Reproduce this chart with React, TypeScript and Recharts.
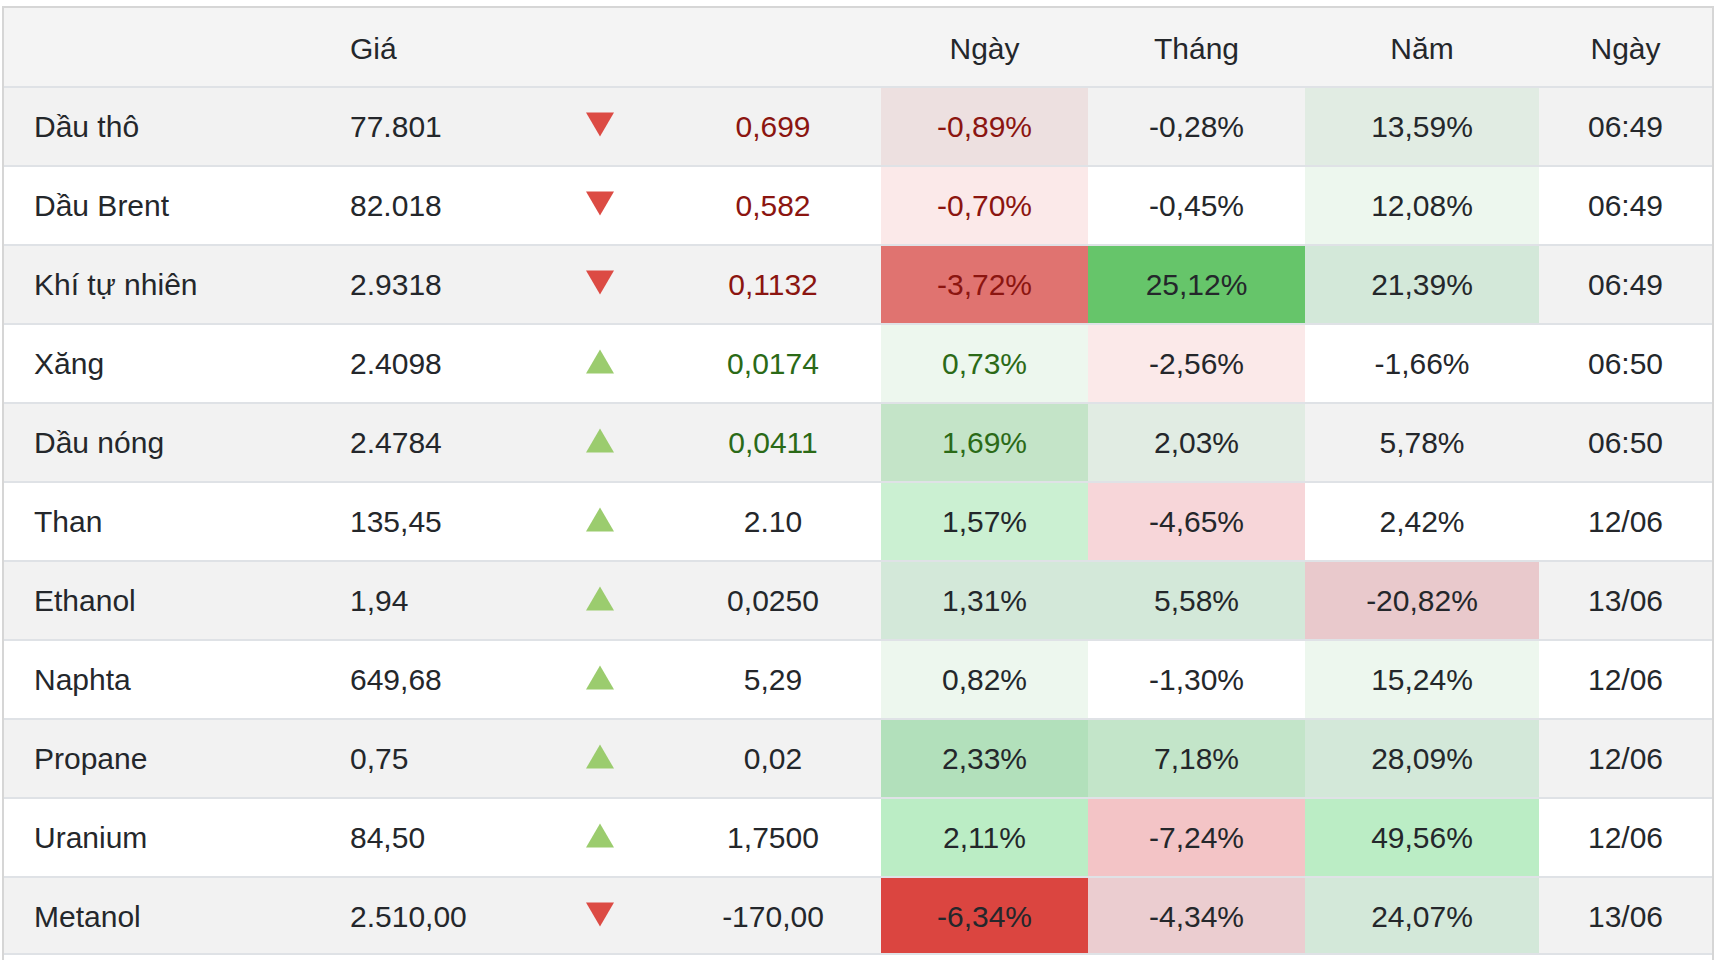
import { BarChart, Bar, XAxis, YAxis, Cell, LabelList } from "recharts";

// table values
const names = ["Dầu thô", "Dầu Brent", "Khí tự nhiên", "Xăng", "Dầu nóng", "Than", "Ethanol", "Naphta", "Propane", "Uranium", "Metanol"];
const prices = ["77.801", "82.018", "2.9318", "2.4098", "2.4784", "135,45", "1,94", "649,68", "0,75", "84,50", "2.510,00"];
const direction = ["down", "down", "down", "up", "up", "up", "up", "up", "up", "up", "down"];
const changes = ["0,699", "0,582", "0,1132", "0,0174", "0,0411", "2.10", "0,0250", "5,29", "0,02", "1,7500", "-170,00"];
const dayPct = ["-0,89%", "-0,70%", "-3,72%", "0,73%", "1,69%", "1,57%", "1,31%", "0,82%", "2,33%", "2,11%", "-6,34%"];
const monthPct = ["-0,28%", "-0,45%", "25,12%", "-2,56%", "2,03%", "-4,65%", "5,58%", "-1,30%", "7,18%", "-7,24%", "-4,34%"];
const yearPct = ["13,59%", "12,08%", "21,39%", "-1,66%", "5,78%", "2,42%", "-20,82%", "15,24%", "28,09%", "49,56%", "24,07%"];
const times = ["06:49", "06:49", "06:49", "06:50", "06:50", "12/06", "13/06", "12/06", "12/06", "12/06", "13/06"];
const live = [true, true, true, true, true, false, false, false, false, false, false];
const headers = ["", "Giá", "", "", "Ngày", "Tháng", "Năm", "Ngày"];

// heatmap cell colours (null = plain row stripe)
const DAY_FILL = ["#ede0e0", "#fbe9e9", "#e07370", "#edf7ee", "#c4e4c8", "#cbf0d2", "#d3e8d9", "#edf7ee", "#b2e0bb", "#bbedc5", "#db4540"];
const MONTH_FILL = [null, null, "#66c56a", "#fbe9e9", "#e1ece3", "#f7d6d9", "#d3e8d9", null, "#c3e5c9", "#f3c4c6", "#ebcdd0"];
const YEAR_FILL = ["#e1ece3", "#edf7ee", "#d3e8d9", null, null, null, "#e9c9cc", "#edf7ee", "#d3e8d9", "#bbedc5", "#d3e8d9"];

const FONT = "'Liberation Sans', Arial, Helvetica, sans-serif";
const TEXT = "#24272b";
const RED_TEXT = "#8b1510";
const GREEN_TEXT = "#2b6a17";
const LINE = "#dfe2e6";

const COLUMNS: any[] = [
  { key: "name", w: 316, align: "left" },
  { key: "price", w: 215, align: "left" },
  { key: "dir", w: 130, align: "arrow" },
  { key: "change", w: 216, align: "center", tinted: true },
  { key: "day", w: 207, align: "center", tinted: true, fills: DAY_FILL },
  { key: "month", w: 217, align: "center", fills: MONTH_FILL },
  { key: "year", w: 234, align: "center", fills: YEAR_FILL },
  { key: "time", w: 173, align: "center" },
];

let acc = 0;
const starts = COLUMNS.map((c) => {
  const s = acc;
  acc += c.w;
  return s;
});
const TOTAL = acc;

const rows = names.map((name, i) => ({
  name,
  price: prices[i],
  dir: direction[i],
  change: changes[i],
  day: dayPct[i],
  month: monthPct[i],
  year: yearPct[i],
  time: times[i],
  live: live[i],
}));

const stripe = (i: number) => (i % 2 === 0 ? "#f2f2f2" : "#ffffff");

const CellShape = (p: any) => {
  const { x, y, width, height, fill, index } = p;
  return (
    <g>
      <rect x={x} y={y} width={width} height={height} fill={fill} />
      <rect x={x} y={y} width={width} height={2} fill={LINE} />
      {index === rows.length - 1 && <rect x={x} y={y + height - 2} width={width} height={2} fill={LINE} />}
    </g>
  );
};

const renderLabel = (p: any, c: any) => {
  const { x, y, width, height, index } = p;
  const r: any = rows[index];
  if (!r) return null;
  const cy = y + height / 2 + 1;
  if (c.key === "dir") {
    const cx = x + width / 2;
    const pts =
      r.dir === "up"
        ? `${cx - 14},${cy + 10} ${cx + 14},${cy + 10} ${cx},${cy - 14}`
        : `${cx - 14},${cy - 14} ${cx + 14},${cy - 14} ${cx},${cy + 10}`;
    return <polygon points={pts} fill={r.dir === "up" ? "#9bcc6e" : "#dc4b44"} />;
  }
  let color = TEXT;
  if (c.tinted && r.live) color = r.dir === "up" ? GREEN_TEXT : RED_TEXT;
  const left = c.align === "left";
  return (
    <text
      x={left ? x + 30 : x + width / 2}
      y={cy}
      textAnchor={left ? "start" : "middle"}
      dominantBaseline="central"
      fontSize={30}
      fontFamily={FONT}
      fill={color}
    >
      {r[c.key]}
    </text>
  );
};

const headerTicks = starts.filter((_, i) => headers[i] !== "");

const HeaderTick = (p: any) => {
  const { x, payload } = p;
  const i = starts.indexOf(payload.value);
  if (i < 0) return null;
  const c = COLUMNS[i];
  const left = c.align === "left";
  return (
    <text
      x={left ? x + 30 : x + c.w / 2}
      y={40}
      textAnchor={left ? "start" : "middle"}
      dominantBaseline="central"
      fontSize={30}
      fontFamily={FONT}
      fill={TEXT}
    >
      {headers[i]}
    </text>
  );
};

export default function App() {
  return (
    <div
      style={{
        position: "absolute",
        left: 2,
        top: 6,
        width: TOTAL,
        height: 952,
        borderTop: "2px solid #d6d6d6",
        borderLeft: "2px solid #d6d6d6",
        borderRight: "2px solid #d6d6d6",
        background: "linear-gradient(#f4f4f4 0px, #f4f4f4 78px, #ffffff 78px)",
      }}
    >
      <BarChart
        width={TOTAL}
        height={947}
        data={rows}
        layout="vertical"
        barCategoryGap={0}
        barGap={0}
        margin={{ top: 0, right: 0, bottom: 0, left: 0 }}
      >
        <XAxis
          type="number"
          orientation="top"
          domain={[0, TOTAL]}
          ticks={headerTicks}
          interval={0}
          height={78}
          axisLine={false}
          tickLine={false}
          tick={HeaderTick}
          allowDataOverflow
        />
        <YAxis type="category" dataKey="name" hide />
        {COLUMNS.map((c) => (
          <Bar
            key={c.key}
            stackId="t"
            dataKey={() => c.w}
            isAnimationActive={false}
            shape={CellShape}
          >
            {rows.map((_, i) => (
              <Cell key={i} fill={(c.fills && c.fills[i]) || stripe(i)} />
            ))}
            <LabelList dataKey={c.key} content={(p: any) => renderLabel(p, c)} />
          </Bar>
        ))}
      </BarChart>
    </div>
  );
}
